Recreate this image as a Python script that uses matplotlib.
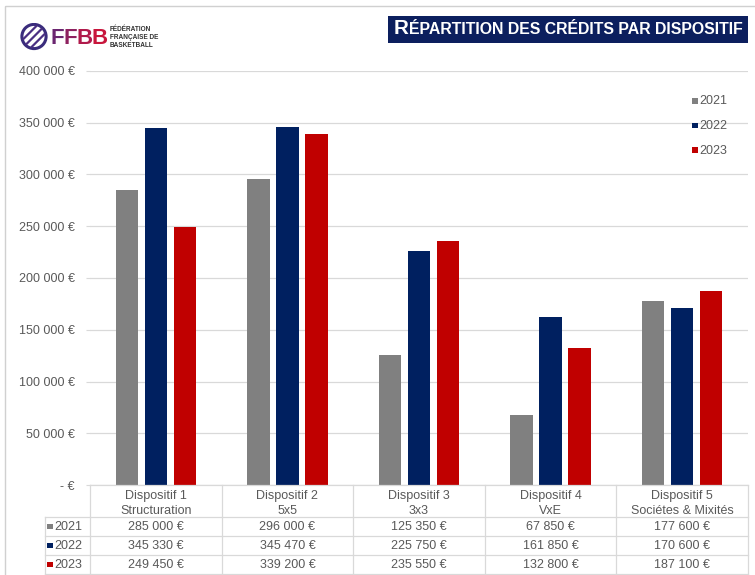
import matplotlib
matplotlib.use('Agg')
import matplotlib.pyplot as plt
from matplotlib.patches import Rectangle, Circle
import numpy as np

# ---------------- data ----------------
categories = ["Dispositif 1\nStructuration", "Dispositif 2\n5x5", "Dispositif 3\n3x3",
              "Dispositif 4\nVxE", "Dispositif 5\nSociétes & Mixités"]
years = ["2021", "2022", "2023"]
v2021 = [285000, 296000, 125350, 67850, 177600]
v2022 = [345330, 345470, 225750, 161850, 170600]
v2023 = [249450, 339200, 235550, 132800, 187100]
series = [v2021, v2022, v2023]
colors = ["#808080", "#002060", "#c00000"]
yticks = [0, 50000, 100000, 150000, 200000, 250000, 300000, 350000, 400000]
title_first = "R"
title_rest = "ÉPARTITION DES CRÉDITS PAR DISPOSITIF"

plt.rcParams['font.family'] = ['Liberation Sans', 'DejaVu Sans']
TXT = "#595959"
GRID = "#d9d9d9"

W, H = 755, 575
fig = plt.figure(figsize=(W / 100, H / 100), dpi=100)


def px(x0, y0, x1, y1):
    return [x0 / W, 1 - y1 / H, (x1 - x0) / W, (y1 - y0) / H]


def fmt(v):
    if v == 0:
        return "- €"
    return f"{v:,}".replace(",", " ") + " €"


# ---------------- main chart ----------------
ax = fig.add_axes(px(90, 71, 748, 485))
n = len(categories)
x = np.arange(n)
bw = 0.171
off = 0.22
for i, (vals, c) in enumerate(zip(series, colors)):
    ax.bar(x + (i - 1) * off, vals, width=bw, color=c, zorder=3)
ax.set_xlim(-0.5, n - 0.5)
ax.set_ylim(0, 400000)
ax.set_yticks(yticks)
ax.set_yticklabels([fmt(v) for v in yticks], fontsize=9, color=TXT)
ax.tick_params(axis='y', length=3, color=GRID, pad=8)
ax.set_xticks([])
ax.grid(axis='y', color=GRID, linewidth=0.9, zorder=0)
for s in ax.spines.values():
    s.set_visible(False)

# ---------------- overlay (pixel coordinates) ----------------
ov = fig.add_axes([0, 0, 1, 1], zorder=5)
ov.set_xlim(0, W)
ov.set_ylim(H, 0)
ov.axis('off')
ov.patch.set_alpha(0)

# outer frame
ov.add_patch(Rectangle((5, 6), 760, 580, fill=False, edgecolor="#d0d0d0", linewidth=1))

# table
col_edges = np.linspace(90, 748, n + 1)
row_lines = [485, 517, 536, 555, 574]
lw = 0.9
ov.plot([90, 748], [485, 485], color=GRID, lw=lw)
for yl in row_lines[1:]:
    ov.plot([45, 748], [yl, yl], color=GRID, lw=lw)
ov.plot([45, 45], [517, 574], color=GRID, lw=lw)
for xe in col_edges:
    ov.plot([xe, xe], [485, 574], color=GRID, lw=lw)

centers = (col_edges[:-1] + col_edges[1:]) / 2
for cx, cat in zip(centers, categories):
    ov.text(cx, 503.5, cat, ha='center', va='center', fontsize=9, color=TXT, linespacing=1.3)
for r, (yr, vals, c) in enumerate(zip(years, series, colors)):
    yc = (row_lines[r + 1] + row_lines[r + 2]) / 2
    ov.add_patch(Rectangle((47, yc - 3), 5.5, 5.5, color=c, lw=0))
    ov.text(54, yc + 0.5, yr, ha='left', va='center', fontsize=9, color=TXT)
    for cx, v in zip(centers, vals):
        ov.text(cx, yc + 0.5, fmt(v), ha='center', va='center', fontsize=9, color=TXT)

# legend
for i, (yr, c) in enumerate(zip(years, colors)):
    yc = 101 + i * 24.5
    ov.add_patch(Rectangle((692, yc - 3), 5.5, 5.5, color=c, lw=0))
    ov.text(699, yc + 0.5, yr, ha='left', va='center', fontsize=9, color=TXT)

# title box
ov.add_patch(Rectangle((388, 16), 360, 27, color="#0c1f5e", lw=0))
fig.canvas.draw()
r = fig.canvas.get_renderer()
s1, s2 = 12.5, 9.6
t1 = ov.text(0, 34.5, title_first, fontsize=s1, weight='bold', color='white', va='baseline')
t2 = ov.text(0, 34.5, title_rest, fontsize=s2, weight='bold', color='white', va='baseline')
w = t1.get_window_extent(r).width + t2.get_window_extent(r).width
k = 350.0 / w
t1.set_fontsize(s1 * k)
t2.set_fontsize(s2 * k)
w1 = t1.get_window_extent(r).width
w2 = t2.get_window_extent(r).width
start = 568 - (w1 + w2) / 2
t1.set_x(start)
t2.set_x(start + w1)

# logo
la = fig.add_axes(px(20, 22, 48, 51), zorder=6)
la.set_xlim(-1.1, 1.1)
la.set_ylim(-1.1, 1.1)
la.set_aspect('equal')
la.axis('off')
la.add_patch(Circle((0, 0), 0.95, fill=False, edgecolor="#3a2c7c", lw=2.2))
for kk in np.linspace(-0.9, 0.9, 5):
    t = np.linspace(-1, 1, 50)
    xs = t * 0.707 + kk * 0.707
    ys = t * 0.707 - kk * 0.707
    m = xs ** 2 + ys ** 2 < 0.72
    la.plot(xs[m], ys[m], color="#4a2f82", lw=1.6, solid_capstyle='round')

lx = 51
for ch, cc in zip("FFBB", ["#6b2670", "#8e2160", "#b01a4b", "#c8163c"]):
    tt = ov.text(lx, 38, ch, fontsize=16, weight='bold', color=cc, va='center', ha='left')
    lx += tt.get_window_extent(r).width - 1.0
ov.text(lx + 3, 37.5, "FÉDÉRATION\nFRANÇAISE DE\nBASKETBALL", fontsize=4.7, weight='bold',
        color="#333333", va='center', ha='left', linespacing=1.2)

fig.savefig("out.png", dpi=100)
